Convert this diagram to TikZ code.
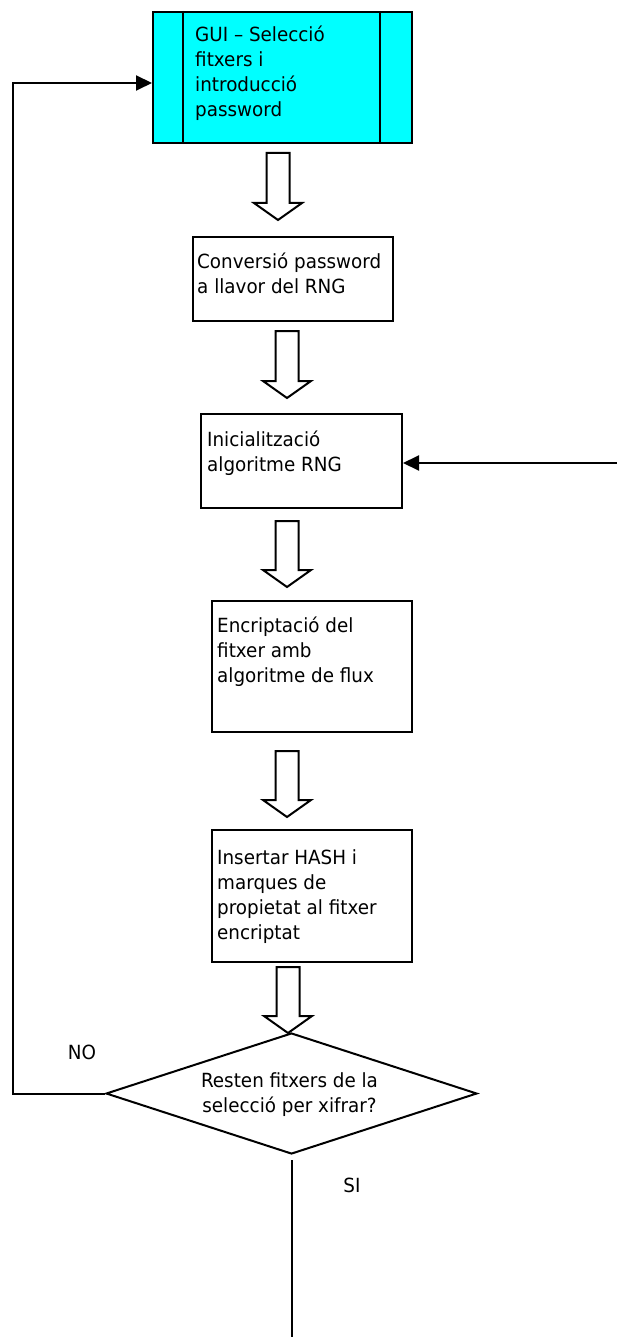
\documentclass[tikz,border=0pt]{standalone}
\usepackage{fontspec}
\setmainfont{DejaVu Sans}[FakeStretch=0.94]
\usetikzlibrary{arrows.meta,shapes.geometric}

\definecolor{guicyan}{HTML}{00FFFF}

\tikzset{
  stepbox/.style={draw, line width=2pt, fill=white, inner sep=0pt, anchor=north west},
  guibox/.style={stepbox, fill=guicyan},
  boxtext/.style={inner sep=0pt, anchor=north west, align=left,
    font=\fontsize{19.5}{25}\selectfont},
  dectext/.style={inner sep=0pt, anchor=north, align=center,
    font=\fontsize{19.5}{25}\selectfont},
  tag/.style={inner sep=0pt, font=\fontsize{19.5}{25}\selectfont},
  decision/.style={draw, line width=2pt, shape=diamond, inner sep=0pt},
  fatarrow/.style={draw, line width=2pt, fill=white, line join=miter},
  link/.style={draw, line width=2pt},
  linkarrow/.style={link, -{Triangle[length=16pt,width=15pt]}}
}

% hollow block arrow: centre x, top of shaft, tip
\newcommand{\fatarrow}[3]{%
  \path[fatarrow] (#1-11.5,#2) -- (#1+11.5,#2) -- (#1+11.5,#3-17)
    -- (#1+24,#3-17) -- (#1,#3) -- (#1-24,#3-17) -- (#1-11.5,#3-17) -- cycle;}

\begin{document}
\begin{tikzpicture}[x=1pt,y=-1pt]
\useasboundingbox (0,0) rectangle (617,1337);

% process boxes
\node[guibox, minimum width=259pt, minimum height=131pt] (gui) at (152,11) {};
\draw[link] (183,11) -- (183,142) (380,11) -- (380,142);
\node[boxtext] (guitxt) at (195,23.5) {\strut GUI – Selecció\\fitxers i\\introducció\\password};

\node[stepbox, minimum width=200pt, minimum height=84pt] (conv) at (192,236) {};
\node[boxtext] (convtxt) at (197,250.5) {\strut Conversió password\\a llavor del RNG};

\node[stepbox, minimum width=201pt, minimum height=94pt] (init) at (200,413) {};
\node[boxtext] (inittxt) at (207,429) {\strut Inicialització\\algoritme RNG};

\node[stepbox, minimum width=200pt, minimum height=131pt] (enc) at (211,600) {};
\node[boxtext] (enctxt) at (217,614.5) {\strut Encriptació del\\fitxer amb\\algoritme de flux};

\node[stepbox, minimum width=200pt, minimum height=132pt] (hash) at (211,829) {};
\node[boxtext] (hashtxt) at (217,846.5) {\strut Insertar HASH i\\marques de\\propietat al fitxer\\encriptat};

% block arrows between the steps
\fatarrow{278}{153}{220}
\fatarrow{287}{331}{398}
\fatarrow{287}{521}{587}
\fatarrow{287}{751}{817}

% decision
\node[decision, minimum width=371pt, minimum height=121pt] (dec) at (291.5,1093.5) {};
\fatarrow{288}{967}{1033}
\node[dectext] (dectxt) at (289.5,1069.5) {\strut Resten fitxers de la\\selecció per xifrar?};

\node[tag] (no) at (82,1052) {NO};
\node[tag] (si) at (352,1185) {SI};

% loop back to the file selection
\coordinate (loopcorner) at (13,83);
\draw[linkarrow] (dec.west) -| (loopcorner) -- (loopcorner -| gui.west);

% re-initialisation input
\coordinate (rngin) at (617,463);
\draw[linkarrow] (rngin) -- (rngin -| init.east);

% exit when no files remain
\coordinate (exit) at (291.5,1337);
\draw[link] ([yshift=-5pt]dec.south) -- (exit);
\end{tikzpicture}
\end{document}
